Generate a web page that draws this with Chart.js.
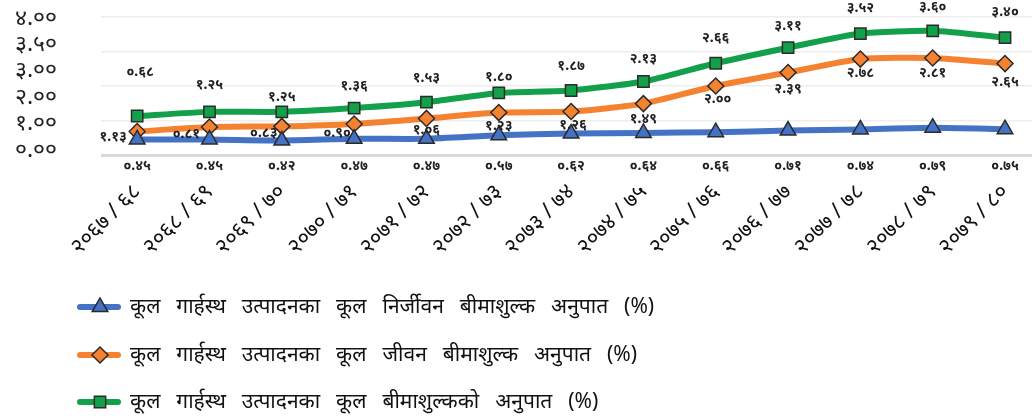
<!DOCTYPE html>
<html>
<head>
<meta charset="utf-8">
<script src="https://cdn.jsdelivr.net/npm/chart.js@4/dist/chart.umd.min.js"></script>
<style>
  body { margin: 0; background: #fff; }
  #wrap { width: 1032px; height: 420px; overflow: hidden; }
</style>
</head>
<body>
<div id="wrap"><canvas id="myChart" width="1043" height="420"></canvas></div>
<script>
// fiscal years
const years = ["२०६७ / ६८", "२०६८ / ६९", "२०६९ / ७०", "२०७० / ७१", "२०७१ / ७२", "२०७२ / ७३", "२०७३ / ७४",
  "२०७४ / ७५", "२०७५ / ७६", "२०७६ / ७७", "२०७७ / ७८", "२०७८ / ७९", "२०७९ / ८०"];
const nonLife = [0.45, 0.45, 0.42, 0.47, 0.47, 0.57, 0.62, 0.64, 0.66, 0.71, 0.74, 0.79, 0.75];
const life = [0.68, 0.81, 0.83, 0.90, 1.06, 1.23, 1.26, 1.49, 2.00, 2.39, 2.78, 2.81, 2.65];
const total = [1.13, 1.25, 1.25, 1.36, 1.53, 1.80, 1.87, 2.13, 2.66, 3.11, 3.52, 3.60, 3.40];
const yTickLabels = ["०.००", "१.००", "२.००", "३.००", "३.५०", "४.००"];
const seriesNames = [
  "कूल गार्हस्थ उत्पादनका कूल निर्जीवन बीमाशुल्क अनुपात (%)",
  "कूल गार्हस्थ उत्पादनका कूल जीवन बीमाशुल्क अनुपात (%)",
  "कूल गार्हस्थ उत्पादनका कूल बीमाशुल्कको अनुपात (%)"
];

const FONT = "'Noto Sans', 'DejaVu Sans', sans-serif";

// nepali digits for the value labels
const devDigits = "०१२३४५६७८९";
function toDev(v) {
  return v.toFixed(2).replace(/[0-9]/g, (d) => devDigits[d]);
}

// label nudges (dx, dy) from the point, like the hand-moved labels in the original
const lifeOffsets = [[3, -60], [-23, 7], [-18, 7], [-17, 9], [0, 12], [0, 13], [2, 13], [0, 15],
  [2, 13], [0, 16], [0, 14], [0, 15], [0, 18]];
const totalOffsets = [[-24, 21], [0, -27], [0, -15], [0, -22], [0, -24], [0, -16], [0, -24], [0, -22],
  [0, -25], [0, -22], [0, -26], [0, -24], [0, -26]];

const valueLabels = {
  id: "valueLabels",
  afterDatasetsDraw(chart) {
    const ctx = chart.ctx;
    ctx.save();
    ctx.font = "bold 14px " + FONT;
    ctx.fillStyle = "#222";
    ctx.textAlign = "center";
    ctx.textBaseline = "middle";
    chart.data.datasets.forEach((ds, di) => {
      const meta = chart.getDatasetMeta(di);
      meta.data.forEach((pt, i) => {
        let x = pt.x, y = pt.y;
        if (di === 0) {
          y = chart.chartArea.bottom + 11;
        } else {
          const off = di === 1 ? lifeOffsets[i] : totalOffsets[i];
          x += off[0];
          y += off[1];
        }
        ctx.fillText(toDev(ds.data[i]), x, y);
      });
    });
    ctx.restore();
  },
};

// legend stacked at the bottom left, line + marker like excel
const stackLegend = {
  id: "stackLegend",
  afterDraw(chart) {
    const ctx = chart.ctx;
    const rows = [307, 355, 402];
    ctx.save();
    chart.data.datasets.forEach((ds, i) => {
      const y = rows[i];
      ctx.strokeStyle = ds.borderColor;
      ctx.lineWidth = 6;
      ctx.lineCap = "round";
      ctx.beginPath();
      ctx.moveTo(80, y);
      ctx.lineTo(118, y);
      ctx.stroke();
      ctx.fillStyle = ds.pointBackgroundColor;
      ctx.strokeStyle = ds.pointBorderColor;
      ctx.lineWidth = 1.5;
      Chart.helpers.drawPoint(ctx, { pointStyle: ds.pointStyle, radius: ds.pointRadius, rotation: 0, borderWidth: 1.5 }, 100, y);
      ctx.fillStyle = "#111";
      ctx.font = "21px " + FONT;
      ctx.wordSpacing = "10.5px";
      ctx.textAlign = "left";
      ctx.textBaseline = "middle";
      ctx.fillText(ds.label, 130, y);
    });
    ctx.restore();
  },
};

const mkSet = (label, data, color, style, r) => ({
  label: label,
  data: data,
  borderColor: color,
  backgroundColor: color,
  borderWidth: 6,
  tension: 0.2,
  pointStyle: style,
  pointRadius: r,
  pointHoverRadius: r,
  pointBackgroundColor: color,
  pointBorderColor: "#2b2b2b",
  pointBorderWidth: 1.5,
});

const config = {
  type: "line",
  data: {
    labels: years.map((_, i) => i),
    datasets: [
      mkSet(seriesNames[0], nonLife, "#4472C4", "triangle", 9),
      mkSet(seriesNames[1], life, "#F58230", "rectRot", 8),
      mkSet(seriesNames[2], total, "#13A04A", "rect", 8),
    ],
  },
  options: {
    responsive: false,
    devicePixelRatio: 1,
    animation: false,
    layout: { padding: { top: 17, right: 0, bottom: 150, left: 0 } },
    plugins: { legend: { display: false }, tooltip: { enabled: false } },
    scales: {
      x: {
        type: "linear",
        min: -0.5,
        max: 12.38,
        afterBuildTicks: (scale) => {
          scale.ticks = years.map((_, i) => ({ value: i }));
        },
        afterFit: (scale) => {
          scale.height = 115;
          scale.paddingLeft = 0;
          scale.paddingRight = 0;
        },
        grid: { display: false, drawTicks: false },
        border: { display: false },
        ticks: {
          autoSkip: false,
          minRotation: 45,
          maxRotation: 45,
          padding: 24,
          color: "#111",
          font: { family: FONT, size: 22 },
          callback: (v, i) => years[i],
        },
      },
      y: {
        min: 0,
        max: 4,
        afterFit: (scale) => {
          scale.width = 0;
          scale.paddingTop = 0;
          scale.paddingBottom = 0;
        },
        ticks: { display: false, stepSize: 1 },
        border: { display: false },
        grid: {
          drawTicks: false,
          color: (c) => (c.tick.value === 0 ? "#d9d9d9" : "#eeeeee"),
          lineWidth: (c) => (c.tick.value === 0 ? 3 : 1.5),
        },
      },
      yLab: {
        position: "left",
        min: -0.176,
        max: 5.038,
        afterBuildTicks: (scale) => {
          scale.ticks = yTickLabels.map((_, i) => ({ value: i }));
        },
        afterFit: (scale) => {
          scale.width = 101;
          scale.paddingTop = 0;
          scale.paddingBottom = 0;
        },
        grid: { display: false, drawTicks: false },
        border: { display: false },
        ticks: {
          autoSkip: false,
          padding: 44,
          color: "#222",
          font: { family: FONT, size: 23 },
          callback: (v, i) => yTickLabels[i],
        },
      },
    },
  },
  plugins: [valueLabels, stackLegend],
};

const myChart = new Chart(document.getElementById("myChart"), config);
</script>
</body>
</html>
